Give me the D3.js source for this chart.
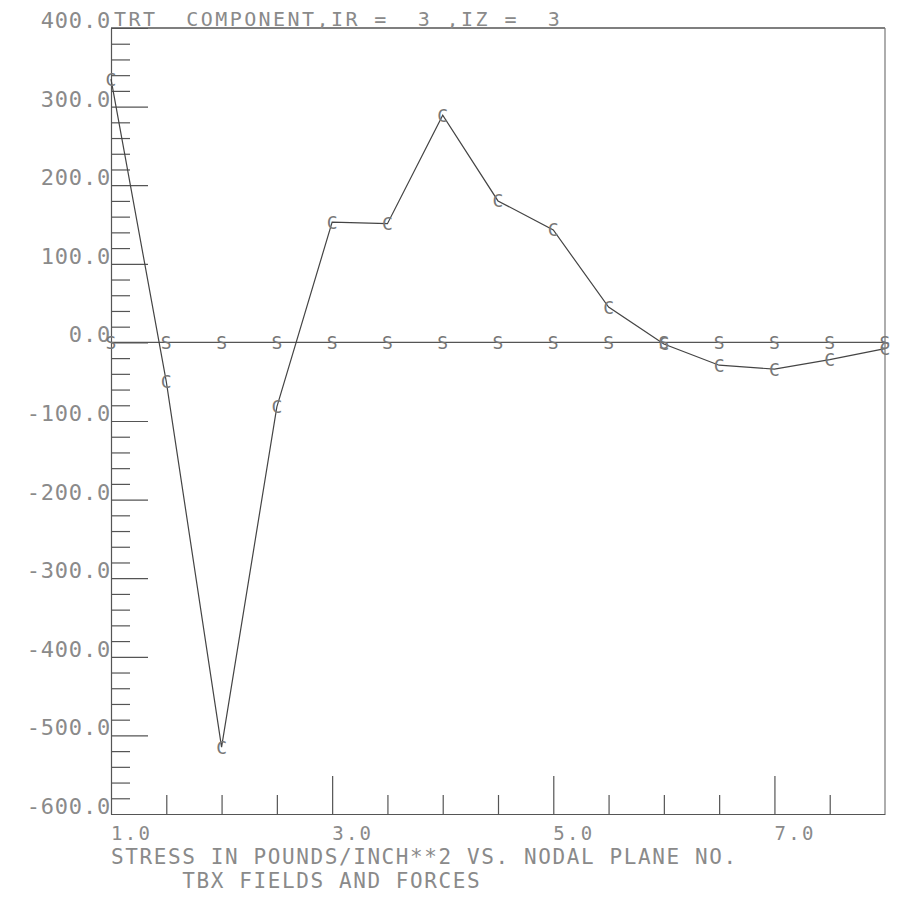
<!DOCTYPE html>
<html>
<head>
<meta charset="utf-8">
<script src="https://cdn.jsdelivr.net/npm/d3@7"></script>
<style>
  html, body { margin: 0; padding: 0; background: #fff; }
  svg { display: block; }
  .lbl { font-family: "DejaVu Sans Mono", monospace; fill: #8a8a8a; white-space: pre; }
  .axis path, .axis line { stroke: #555; stroke-width: 1.2; }
</style>
</head>
<body>
<div id="chart"></div>
<script>
// nodal plane numbers (x) and the two plotted series
const planes = [1.0, 1.5, 2.0, 2.5, 3.0, 3.5, 4.0, 4.5, 5.0, 5.5, 6.0, 6.5, 7.0, 7.5, 8.0];
const cValues = [335, -50, -515, -82, 153, 151, 289, 180, 143, 45, -2, -29, -34, -22, -8];
const sValues = [0, 0, 0, 0, 0, 0, 0, 0, 0, 0, 0, 0, 0, 0, 0];

// tick values
const yMajor = [400, 300, 200, 100, 0, -100, -200, -300, -400, -500, -600];
const yMinor = [380, 360, 340, 320, 280, 260, 240, 220, 180, 160, 140, 120, 80, 60, 40, 20,
  -20, -40, -60, -80, -120, -140, -160, -180, -220, -240, -260, -280, -320, -340, -360, -380,
  -420, -440, -460, -480, -520, -540, -560, -580];
const xMajor = [3, 5, 7];
const xMinor = [1.5, 2, 2.5, 3.5, 4, 4.5, 5.5, 6, 6.5, 7.5];
const xLabels = [1, 3, 5, 7];

const titleText = "TRT  COMPONENT,IR =  3 ,IZ =  3";
const xTitle1 = "STRESS IN POUNDS/INCH**2 VS. NODAL PLANE NO.";
const xTitle2 = "     TBX FIELDS AND FORCES";

const width = 899, height = 897;
const plotLeft = 111, plotRight = 885, plotTop = 28, plotBottom = 814;

const svg = d3.select('#chart').append('svg')
    .attr('width', width)
    .attr('height', height);

const x = d3.scaleLinear().domain([1, 8]).range([plotLeft, plotRight]);
const y = d3.scaleLinear().domain([-600, 400]).range([plotBottom, plotTop]);

// frame: top and right borders
svg.append('line')
    .attr('x1', plotLeft).attr('x2', plotRight).attr('y1', plotTop).attr('y2', plotTop)
    .attr('stroke', '#555').attr('stroke-width', 1.3);
svg.append('line')
    .attr('x1', plotRight).attr('x2', plotRight).attr('y1', plotTop).attr('y2', plotBottom)
    .attr('stroke', '#777').attr('stroke-width', 1.2);

// y axis, ticks pointing into the plot
svg.append('g')
    .attr('class', 'axis')
    .attr('transform', `translate(${plotLeft},0)`)
    .call(d3.axisRight(y).tickValues(yMinor).tickSize(19).tickFormat('').tickSizeOuter(0))
    .call(g => g.select('.domain').remove());
svg.append('g')
    .attr('class', 'axis')
    .attr('transform', `translate(${plotLeft},0)`)
    .call(d3.axisRight(y).tickValues(yMajor).tickSize(37).tickFormat('').tickSizeOuter(0));

// y labels, baseline on the tick
svg.append('g')
    .selectAll('text')
    .data(yMajor)
    .join('text')
    .attr('class', 'lbl')
    .attr('x', plotLeft)
    .attr('y', d => y(d))
    .attr('text-anchor', 'end')
    .attr('font-size', 22)
    .attr('letter-spacing', 0.8)
    .text(d => d.toFixed(1));

// x axis, ticks pointing up
svg.append('g')
    .attr('class', 'axis')
    .attr('transform', `translate(0,${plotBottom})`)
    .call(d3.axisTop(x).tickValues(xMinor).tickSize(19).tickFormat('').tickSizeOuter(0));
svg.append('g')
    .attr('class', 'axis')
    .attr('transform', `translate(0,${plotBottom})`)
    .call(d3.axisTop(x).tickValues(xMajor).tickSize(38).tickFormat('').tickSizeOuter(0))
    .call(g => g.select('.domain').remove());

svg.append('g')
    .selectAll('text')
    .data(xLabels)
    .join('text')
    .attr('class', 'lbl')
    .attr('x', d => x(d))
    .attr('y', plotBottom + 26)
    .attr('font-size', 19)
    .attr('letter-spacing', 2.3)
    .text(d => d.toFixed(1));

// titles
svg.append('text')
    .attr('class', 'lbl')
    .attr('x', plotLeft + 3)
    .attr('y', plotTop - 2)
    .attr('font-size', 20)
    .attr('letter-spacing', 2.42)
    .text(titleText);

svg.append('text')
    .attr('class', 'lbl')
    .attr('x', plotLeft)
    .attr('y', 864)
    .attr('font-size', 21)
    .attr('letter-spacing', 1.6)
    .text(xTitle1);
svg.append('text')
    .attr('class', 'lbl')
    .attr('x', plotLeft)
    .attr('y', 888)
    .attr('font-size', 21)
    .attr('letter-spacing', 1.6)
    .text(xTitle2);

// series lines
const line = d3.line().x(d => x(d[0])).y(d => y(d[1]));

svg.append('path')
    .datum(planes.map((p, i) => [p, sValues[i]]))
    .attr('d', line)
    .attr('fill', 'none')
    .attr('stroke', '#555')
    .attr('stroke-width', 1.2);

svg.append('path')
    .datum(planes.map((p, i) => [p, cValues[i]]))
    .attr('d', line)
    .attr('fill', 'none')
    .attr('stroke', '#444')
    .attr('stroke-width', 1.2);

// plot symbols
function symbols(values, ch) {
    svg.append('g')
        .selectAll('text')
        .data(planes.map((p, i) => [p, values[i]]))
        .join('text')
        .attr('class', 'lbl')
        .attr('x', d => x(d[0]))
        .attr('y', d => y(d[1]))
        .attr('dy', '0.36em')
        .attr('text-anchor', 'middle')
        .attr('font-size', 18)
        .style('fill', '#777')
        .text(ch);
}
symbols(sValues, 'S');
symbols(cValues, 'C');
</script>
</body>
</html>
